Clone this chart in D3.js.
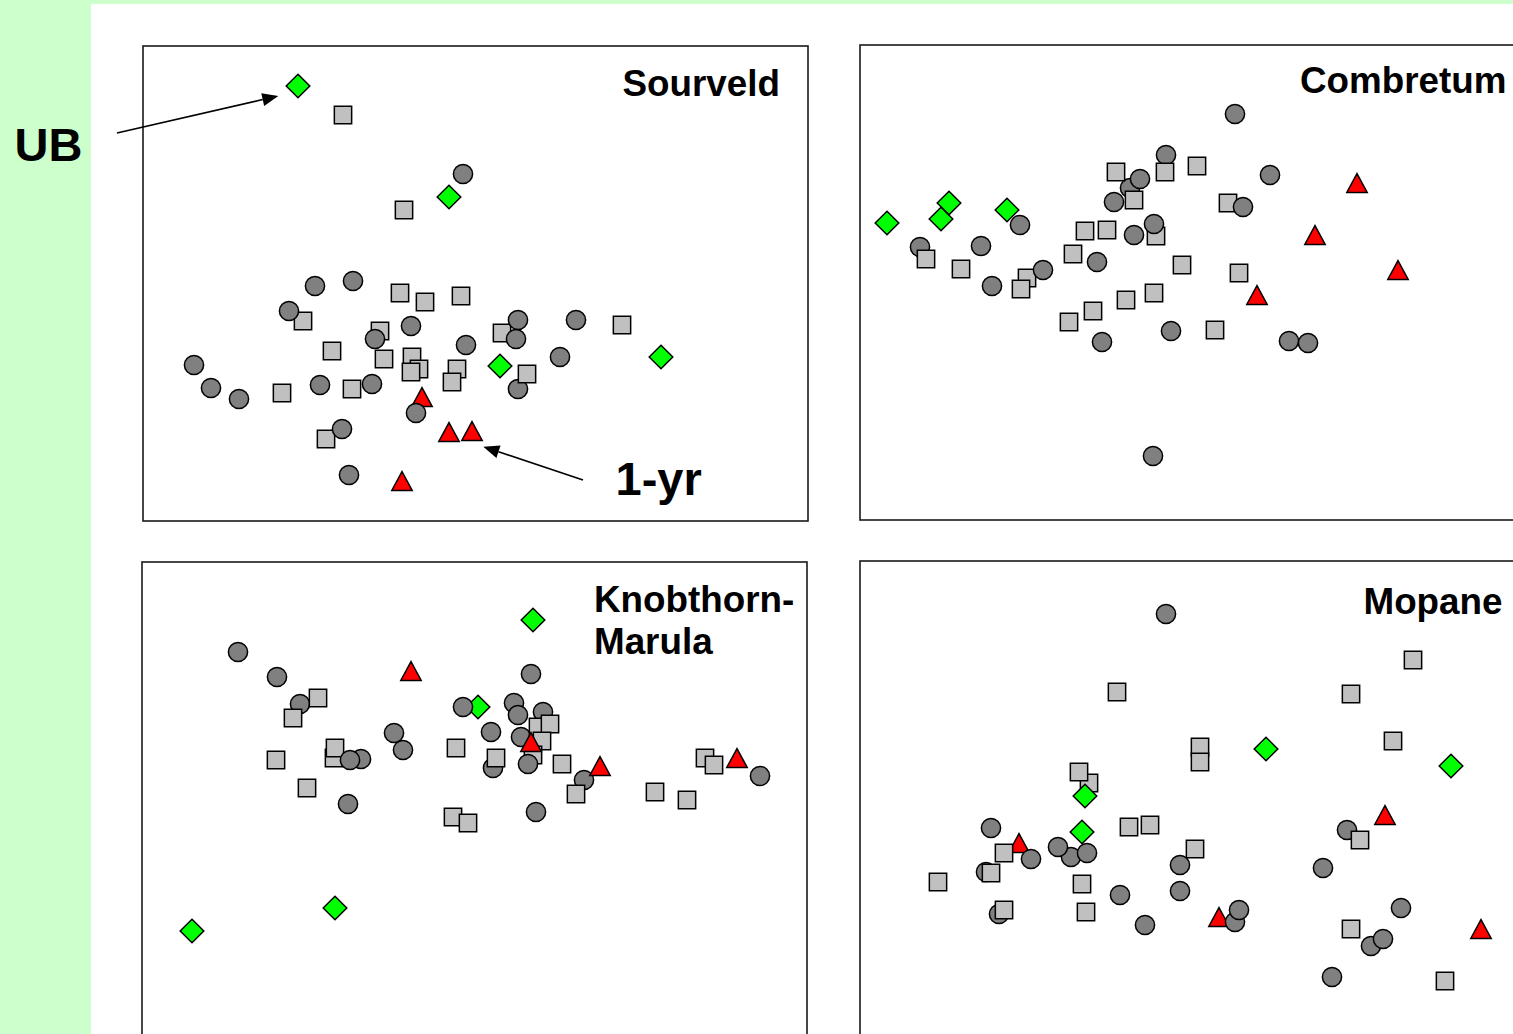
<!DOCTYPE html>
<html>
<head>
<meta charset="utf-8">
<script src="https://cdn.jsdelivr.net/npm/d3@7"></script>
<style>
  html, body { margin: 0; padding: 0; background: #ccffcc; }
  svg { display: block; }
</style>
</head>
<body>
<svg id="chart" width="1513" height="1034"></svg>
<script>
// Ordination scores (axis 1, axis 2) of the plots in each veld type.
// Symbol codes: c = grey circle, s = light-grey square,
// d = green diamond (UB plots), t = red triangle (1-yr plots).
// Rows are listed in drawing order.
const sourveld = [
  ["t", 2.79, 1.24], ["t", 3.06, 0.89], ["t", 3.29, 0.90], ["t", 2.59, 0.40],
  ["c", 3.75, 1.32],
  ["s", 2.00, 4.06], ["s", 2.61, 3.11], ["s", 2.57, 2.28], ["s", 2.82, 2.19], ["s", 3.18, 2.25],
  ["s", 1.60, 2.00], ["s", 2.37, 1.90], ["s", 3.59, 1.88], ["s", 4.79, 1.96], ["s", 1.89, 1.70],
  ["s", 2.41, 1.62], ["s", 2.69, 1.64], ["s", 2.76, 1.52], ["s", 2.68, 1.49], ["s", 3.14, 1.52],
  ["s", 3.09, 1.39], ["s", 3.84, 1.47], ["s", 1.39, 1.28], ["s", 2.09, 1.32], ["s", 1.83, 0.82],
  ["c", 3.20, 3.47], ["c", 1.72, 2.35], ["c", 2.10, 2.40], ["c", 1.46, 2.10], ["c", 2.32, 1.82],
  ["c", 2.68, 1.95], ["c", 3.23, 1.76], ["c", 3.75, 2.01], ["c", 3.73, 1.82], ["c", 4.33, 2.01],
  ["c", 4.17, 1.64], ["c", 0.51, 1.56], ["c", 0.68, 1.33], ["c", 0.96, 1.22], ["c", 1.77, 1.36],
  ["c", 2.29, 1.37], ["c", 2.73, 1.08], ["c", 1.99, 0.92], ["c", 2.06, 0.46],
  ["d", 1.55, 4.35], ["d", 3.06, 3.24], ["d", 3.57, 1.55], ["d", 5.18, 1.64]
];

const combretum = [
  ["c", 0.60, 2.73], ["c", 3.06, 3.65], ["c", 2.54, 3.18], ["c", 2.70, 3.32],
  ["s", 3.37, 3.54], ["s", 2.56, 3.48], ["s", 3.05, 3.48], ["s", 2.74, 3.20], ["s", 3.68, 3.17],
  ["s", 2.25, 2.89], ["s", 2.47, 2.90], ["s", 2.96, 2.84], ["s", 0.66, 2.61], ["s", 1.01, 2.51],
  ["s", 2.13, 2.66], ["s", 3.22, 2.55], ["s", 3.79, 2.47], ["s", 1.67, 2.42], ["s", 1.61, 2.31],
  ["s", 2.66, 2.20], ["s", 2.94, 2.27], ["s", 2.33, 2.09], ["s", 2.09, 1.98], ["s", 3.55, 1.90],
  ["c", 3.75, 4.06], ["c", 2.80, 3.41], ["c", 4.10, 3.45], ["c", 3.83, 3.13], ["c", 1.60, 2.95],
  ["c", 2.94, 2.96], ["c", 2.74, 2.85], ["c", 1.21, 2.74], ["c", 2.37, 2.58], ["c", 1.83, 2.50],
  ["c", 1.32, 2.34], ["c", 2.42, 1.78], ["c", 3.11, 1.89], ["c", 4.29, 1.79], ["c", 4.48, 1.77],
  ["c", 2.93, 0.64],
  ["d", 0.89, 3.17], ["d", 0.81, 3.01], ["d", 0.27, 2.97], ["d", 1.47, 3.10],
  ["t", 4.97, 3.37], ["t", 4.55, 2.85], ["t", 5.38, 2.50], ["t", 3.97, 2.25]
];

const knobthornMarula = [
  ["c", 0.96, 3.85], ["c", 1.35, 3.60], ["c", 3.89, 3.63], ["c", 1.58, 3.33], ["c", 3.72, 3.34],
  ["c", 3.76, 3.22], ["c", 4.01, 3.25], ["c", 3.49, 3.05], ["c", 3.79, 3.00], ["c", 2.52, 3.04],
  ["c", 2.61, 2.87], ["c", 3.51, 2.69], ["c", 4.42, 2.57], ["c", 6.18, 2.61], ["c", 2.06, 2.33],
  ["c", 3.94, 2.25],
  ["s", 1.76, 3.39], ["s", 1.51, 3.19], ["s", 3.96, 3.10], ["s", 4.08, 3.13], ["s", 4.00, 2.96],
  ["s", 3.91, 2.82], ["s", 3.14, 2.89], ["s", 1.34, 2.77], ["s", 1.92, 2.79], ["s", 1.93, 2.89],
  ["s", 3.54, 2.79], ["s", 4.20, 2.73], ["s", 4.34, 2.43], ["s", 5.63, 2.79], ["s", 5.72, 2.72],
  ["s", 5.13, 2.45], ["s", 5.45, 2.37], ["s", 1.65, 2.49], ["s", 3.11, 2.20], ["s", 3.26, 2.14],
  ["d", 3.91, 4.17], ["d", 3.36, 3.30], ["d", 1.93, 1.29], ["d", 0.50, 1.06],
  ["c", 3.21, 3.30], ["c", 3.86, 2.73], ["c", 2.19, 2.78], ["c", 2.08, 2.77],
  ["t", 2.69, 3.66], ["t", 3.89, 2.95], ["t", 4.58, 2.71], ["t", 5.95, 2.79]
];

const mopane = [
  ["t", 5.25, 2.21], ["t", 1.59, 1.93], ["t", 3.59, 1.19], ["t", 6.21, 1.07],
  ["c", 3.06, 4.22], ["c", 1.31, 2.08], ["c", 2.11, 1.79], ["c", 1.98, 1.89], ["c", 2.27, 1.83],
  ["c", 4.87, 2.06], ["c", 3.20, 1.71], ["c", 1.26, 1.64], ["c", 4.63, 1.68], ["c", 3.20, 1.45],
  ["c", 2.60, 1.41], ["c", 5.41, 1.28], ["c", 1.39, 1.22], ["c", 2.85, 1.11], ["c", 3.75, 1.14],
  ["c", 3.79, 1.26], ["c", 5.11, 0.90], ["c", 5.23, 0.97], ["c", 4.72, 0.59],
  ["s", 5.53, 3.76], ["s", 2.57, 3.44], ["s", 4.91, 3.42], ["s", 5.33, 2.95], ["s", 3.40, 2.89],
  ["s", 3.40, 2.74], ["s", 2.29, 2.53], ["s", 2.19, 2.64], ["s", 1.44, 1.83], ["s", 2.69, 2.09],
  ["s", 2.90, 2.11], ["s", 5.00, 1.96], ["s", 3.35, 1.87], ["s", 1.31, 1.63], ["s", 0.78, 1.54],
  ["s", 2.22, 1.52], ["s", 1.44, 1.26], ["s", 2.26, 1.24], ["s", 4.91, 1.07], ["s", 5.85, 0.55],
  ["c", 1.71, 1.77],
  ["d", 4.06, 2.87], ["d", 5.91, 2.70], ["d", 2.25, 2.40], ["d", 2.22, 2.04]
];

const panelTitles = [["Sourveld"], ["Combretum"], ["Knobthorn-", "Marula"], ["Mopane"]];

// Call-outs in Sourveld axis units: label position, arrow start, arrow tip
const callouts = [
  { label: "UB",   at: [-1.285, 3.60], from: [-0.26, 3.88], to: [1.353, 4.25] },
  { label: "1-yr", at: [4.725, 0.26],  from: [4.40, 0.41],  to: [3.403, 0.743] }
];

// ---------------------------------------------------------------------------
const W = 1513, H = 1034;
const FONT = "'Liberation Sans', Arial, Helvetica, sans-serif";
const svg = d3.select("#chart");

svg.append("rect").attr("width", W).attr("height", H).attr("fill", "#ccffcc");
svg.append("rect").attr("x", 91).attr("y", 4)
  .attr("width", W - 91).attr("height", H - 4).attr("fill", "#ffffff");

const PW = 665, PH = 475;
const panels = [
  { data: sourveld,        left: 143, top: 46,  title: { anchor: "end",   dx: 637,   dy: 50 } },
  { data: combretum,       left: 860, top: 45,  title: { anchor: "end",   dx: 646.5, dy: 48 } },
  { data: knobthornMarula, left: 142, top: 562, title: { anchor: "start", dx: 452,   dy: 50 } },
  { data: mopane,          left: 860, top: 561, title: { anchor: "end",   dx: 642.5, dy: 53 } }
];

// Marker shapes
const diamond = {
  draw(ctx, size) {
    const r = Math.sqrt(size) / 2;
    ctx.moveTo(0, -r); ctx.lineTo(r, 0); ctx.lineTo(0, r); ctx.lineTo(-r, 0); ctx.closePath();
  }
};
const triangle = {
  draw(ctx, size) {
    const s = Math.sqrt(size) / 2;
    ctx.moveTo(0, -0.92 * s); ctx.lineTo(s, 0.92 * s); ctx.lineTo(-s, 0.92 * s); ctx.closePath();
  }
};
const markers = {
  c: { type: d3.symbolCircle, size: Math.PI * 9.6 * 9.6, fill: "#808080" },
  s: { type: d3.symbolSquare, size: 17.3 * 17.3,          fill: "#c0c0c0" },
  d: { type: diamond,         size: 23.6 * 23.6,          fill: "#00ff00" },
  t: { type: triangle,        size: 20.4 * 20.4,          fill: "#ff0000" }
};

const scalesByPanel = [];

panels.forEach((p, i) => {
  const x = d3.scaleLinear().domain([0, 6.65]).range([p.left, p.left + PW]);
  const y = d3.scaleLinear().domain([0, 4.75]).range([p.top + PH, p.top]);
  scalesByPanel.push({ x, y });

  const g = svg.append("g");

  g.append("rect")
    .attr("x", x(0)).attr("y", y(4.75))
    .attr("width", x(6.65) - x(0)).attr("height", y(0) - y(4.75))
    .attr("fill", "none").attr("stroke", "#1a1a1a").attr("stroke-width", 1.6);

  g.selectAll("path.pt")
    .data(p.data)
    .join("path")
    .attr("class", "pt")
    .attr("transform", d => `translate(${x(d[1])},${y(d[2])})`)
    .attr("d", d => d3.symbol().type(markers[d[0]].type).size(markers[d[0]].size)())
    .attr("fill", d => markers[d[0]].fill)
    .attr("stroke", "#000")
    .attr("stroke-width", 1.5)
    .attr("stroke-linejoin", "miter");

  const t = g.append("text")
    .attr("x", p.left + p.title.dx)
    .attr("y", p.top + p.title.dy)
    .attr("text-anchor", p.title.anchor)
    .attr("font-family", FONT)
    .attr("font-weight", "bold")
    .attr("font-size", 36.8)
    .attr("fill", "#000");
  panelTitles[i].forEach((line, k) => {
    t.append("tspan")
      .attr("x", p.left + p.title.dx)
      .attr("dy", k === 0 ? 0 : 42)
      .text(line);
  });
});

// Call-out labels and arrows (Sourveld panel units)
const sx = scalesByPanel[0].x, sy = scalesByPanel[0].y;
callouts.forEach(c => {
  svg.append("text")
    .attr("x", sx(c.at[0])).attr("y", sy(c.at[1]))
    .attr("font-family", FONT).attr("font-weight", "bold").attr("font-size", 47)
    .attr("fill", "#000")
    .text(c.label);

  const x1 = sx(c.from[0]), y1 = sy(c.from[1]);
  const x2 = sx(c.to[0]),   y2 = sy(c.to[1]);
  const ang = Math.atan2(y2 - y1, x2 - x1);
  const L = 16, hw = 6.5;
  const bx = x2 - L * Math.cos(ang), by = y2 - L * Math.sin(ang);
  svg.append("line")
    .attr("x1", x1).attr("y1", y1).attr("x2", bx).attr("y2", by)
    .attr("stroke", "#000").attr("stroke-width", 1.6);
  const px = -Math.sin(ang) * hw, py = Math.cos(ang) * hw;
  svg.append("path")
    .attr("d", `M${x2},${y2}L${bx + px},${by + py}L${bx - px},${by - py}Z`)
    .attr("fill", "#000");
});
</script>
</body>
</html>
